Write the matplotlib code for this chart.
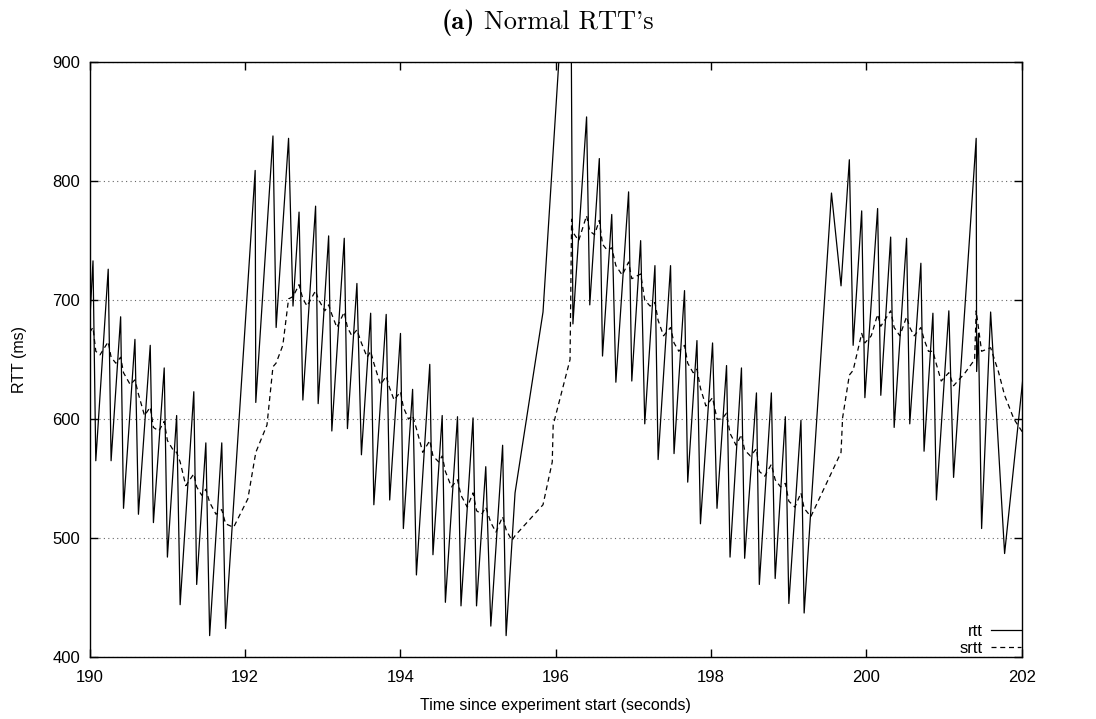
"""Normal RTT's: rtt and smoothed rtt over time."""

import matplotlib
matplotlib.use("Agg")
import matplotlib.pyplot as plt

# rtt samples (time in seconds, value in ms)
rtt_t = [190.00, 190.043, 190.079, 190.239, 190.276, 190.399, 190.436, 190.583, 190.628, 190.780,
         190.821, 190.960, 191.001, 191.120, 191.165, 191.341, 191.378, 191.496, 191.545, 191.701, 191.750,
         192.131, 192.139, 192.360, 192.401, 192.561, 192.618, 192.696, 192.745, 192.909, 192.942,
         193.077, 193.118, 193.278, 193.319, 193.441, 193.499, 193.618, 193.659, 193.818, 193.863,
         194.002, 194.039, 194.158, 194.207, 194.379, 194.420, 194.539, 194.580, 194.736, 194.781,
         194.936, 194.981, 195.100, 195.165, 195.317, 195.362, 195.477, 195.837,
         196.190, 196.205, 196.222, 196.398, 196.439, 196.562, 196.603, 196.722, 196.775, 196.939,
         196.980, 197.094, 197.147, 197.278, 197.319, 197.479, 197.524, 197.659, 197.700, 197.819, 197.864,
         198.020, 198.077, 198.200, 198.245, 198.392, 198.433, 198.585, 198.622, 198.777, 198.826,
         198.957, 199.002, 199.158, 199.199, 199.551, 199.674, 199.781, 199.830,
         199.940, 199.981, 200.145, 200.186, 200.313, 200.358, 200.518, 200.559, 200.702, 200.743,
         200.857, 200.902, 201.062, 201.123, 201.414, 201.420, 201.443, 201.484, 201.600, 201.780, 202.020]
rtt_ms = [680, 733, 565, 726, 565, 686, 525, 667, 520, 662,
          513, 643, 484, 603, 444, 623, 461, 580, 418, 580, 424,
          809, 614, 838, 677, 836, 695, 774, 616, 779, 613,
          754, 590, 752, 592, 714, 570, 689, 528, 688, 532,
          672, 508, 625, 469, 646, 486, 603, 446, 602, 443,
          601, 443, 560, 426, 578, 418, 538, 690,
          1055, 866, 680, 854, 696, 819, 653, 772, 631, 791,
          632, 750, 596, 729, 566, 729, 571, 708, 547, 666, 512,
          664, 525, 645, 484, 643, 483, 622, 461, 622, 466,
          602, 445, 599, 437, 790, 712, 818, 662,
          775, 618, 777, 620, 753, 593, 752, 596, 731, 573,
          689, 532, 691, 551, 836, 640, 672, 508, 690, 487, 637]

# smoothed rtt
srtt_t = [190.000, 190.043, 190.079, 190.133, 190.239, 190.276, 190.337, 190.399, 190.436, 190.522,
          190.583, 190.628, 190.706, 190.780, 190.821, 190.890, 190.960, 191.001, 191.075, 191.120,
          191.165, 191.238, 191.341, 191.378, 191.443, 191.496, 191.545, 191.627, 191.701, 191.750,
          191.853, 192.037, 192.139, 192.283, 192.360, 192.400, 192.487, 192.561, 192.618, 192.696,
          192.745, 192.800, 192.909, 192.942, 193.028, 193.077, 193.118, 193.183, 193.278, 193.319,
          193.376, 193.441, 193.499, 193.573, 193.618, 193.659, 193.744, 193.818, 193.863, 193.920,
          194.002, 194.039, 194.105, 194.158, 194.207, 194.289, 194.379, 194.420, 194.494, 194.539,
          194.580, 194.658, 194.736, 194.781, 194.862, 194.936, 194.981, 195.047, 195.100, 195.165,
          195.231, 195.317, 195.362, 195.436, 195.477, 195.837, 195.956, 195.968, 196.185, 196.205,
          196.222, 196.296, 196.398, 196.439, 196.500, 196.562, 196.603, 196.664, 196.722, 196.775,
          196.857, 196.939, 196.980, 197.094, 197.147, 197.216, 197.278, 197.319, 197.389, 197.479,
          197.524, 197.586, 197.659, 197.700, 197.770, 197.819, 197.864, 197.934, 198.020, 198.077,
          198.139, 198.200, 198.245, 198.323, 198.392, 198.433, 198.507, 198.585, 198.622, 198.692,
          198.777, 198.826, 198.896, 198.957, 199.002, 199.080, 199.158, 199.199, 199.285, 199.674,
          199.694, 199.781, 199.830, 199.940, 199.981, 200.063, 200.145, 200.186, 200.313, 200.358,
          200.431, 200.518, 200.559, 200.616, 200.702, 200.743, 200.800, 200.857, 200.902, 200.964,
          201.062, 201.123, 201.272, 201.394, 201.414, 201.443, 201.484, 201.600, 201.700, 201.780,
          201.900, 202.020]
srtt_ms = [673, 677, 657, 654, 665, 652, 647, 652, 639, 629,
           633, 621, 603, 610, 593, 590, 598, 582, 574, 572,
           564, 544, 554, 543, 536, 541, 530, 520, 524, 512,
           509, 533, 572, 595, 644, 647, 662, 701, 703, 713,
           701, 695, 708, 701, 691, 696, 688, 677, 690, 677,
           670, 675, 664, 652, 657, 647, 629, 636, 626, 616,
           623, 610, 600, 603, 592, 572, 582, 569, 564, 569,
           556, 543, 549, 536, 526, 538, 523, 520, 526, 513,
           505, 518, 507, 498, 502, 528, 564, 595, 650, 768,
           757, 750, 771, 758, 755, 767, 747, 742, 744, 729,
           721, 732, 718, 722, 700, 695, 698, 683, 670, 677,
           664, 657, 662, 647, 639, 642, 626, 611, 618, 600,
           600, 605, 588, 578, 587, 574, 569, 575, 556, 552,
           562, 549, 543, 546, 531, 526, 538, 525, 518, 572,
           601, 637, 641, 672, 664, 670, 688, 678, 691, 677,
           670, 686, 677, 670, 677, 667, 657, 657, 646, 632,
           639, 628, 639, 650, 691, 677, 657, 660, 640, 620,
           600, 588]

x_ticks = [190, 192, 194, 196, 198, 200, 202]
y_ticks = [400, 500, 600, 700, 800, 900]

plt.rcParams['font.family'] = ['Liberation Sans', 'DejaVu Sans']
plt.rcParams['font.size'] = 12

fig = plt.figure(figsize=(10.96, 7.19), dpi=100)
ax = fig.add_axes([0.0818, 0.0862, 0.9322 - 0.0818, 0.9135 - 0.0862])

ax.plot(rtt_t, rtt_ms, color='black', lw=0.9, label='rtt')
ax.plot(srtt_t, srtt_ms, color='black', lw=0.9, ls=(0, (4, 3)), label='srtt')

ax.set_xlim(190, 202)
ax.set_ylim(400, 900)
ax.set_xticks(x_ticks)
ax.set_yticks(y_ticks)
ax.yaxis.grid(True, color='0.4', lw=0.8, ls=(0, (1, 3)))
ax.set_axisbelow(True)
ax.tick_params(direction='in', top=True, right=True, length=6, width=1.0)
ax.tick_params(axis='x', pad=9.5)
ax.tick_params(axis='y', pad=7)
for sp in ax.spines.values():
    sp.set_linewidth(1.0)

ax.set_xlabel('Time since experiment start (seconds)', fontsize=11.5, labelpad=9)
ax.set_ylabel('RTT (ms)', fontsize=11.5, labelpad=18)

ax.legend(loc='lower right', frameon=False, markerfirst=False, handlelength=1.8,
          handletextpad=0.5, labelspacing=0.12, borderaxespad=0.05, borderpad=0.0,
          fontsize=12)

# title: bold "(a)" followed by roman text, centred on the figure
renderer = fig.canvas.get_renderer()
t_bold = fig.text(0, 0.969, "(a)", family=['cmb10', 'DejaVu Serif'], fontsize=19, va='center')
t_rest = fig.text(0, 0.969, "Normal RTT's", family=['cmr10', 'DejaVu Serif'], fontsize=19,
                  va='center')
w_bold = t_bold.get_window_extent(renderer).width
w_rest = t_rest.get_window_extent(renderer).width
gap = 9
fig_w = fig.get_figwidth() * fig.dpi
x0 = (fig_w - (w_bold + gap + w_rest)) / 2
t_bold.set_x(x0 / fig_w)
t_rest.set_x((x0 + w_bold + gap) / fig_w)

fig.savefig('out.png', dpi=100)
